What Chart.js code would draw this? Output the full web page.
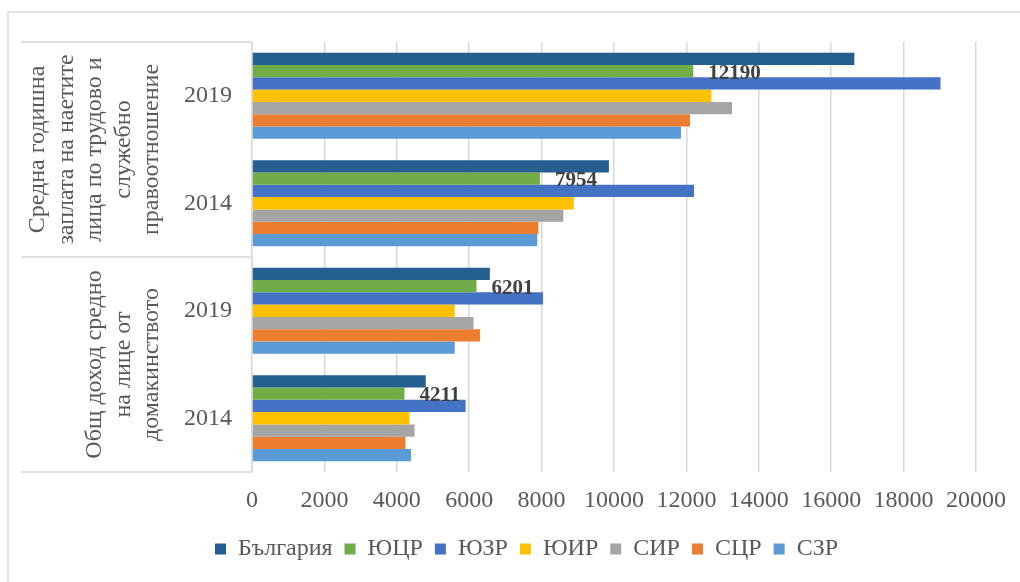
<!DOCTYPE html>
<html>
<head>
<meta charset="utf-8">
<script src="https://cdn.jsdelivr.net/npm/chart.js@4.4.1/dist/chart.umd.min.js"></script>
<style>
  html, body { margin: 0; padding: 0; background: #fff; }
  #wrap { width: 1020px; height: 582px; position: relative; }
</style>
</head>
<body>
<div id="wrap"><canvas id="regionsChart"></canvas></div>
<script>
// ------------------------ DATOS ------------------------
// categorias (de arriba hacia abajo): заплата 2019, заплата 2014, доход 2019, доход 2014
const yearLabels = ['2019', '2014', '2019', '2014'];
const groupLabels = [
  ['Средна годишна', 'заплата на наетите', 'лица по трудово и', 'служебно', 'правоотношение'],
  ['Общ доход средно', 'на лице от', 'домакинството']
];
const seriesNames = ['България', 'ЮЦР', 'ЮЗР', 'ЮИР', 'СИР', 'СЦР', 'СЗР'];
const bulgaria = [16640, 9860, 6570, 4800];
const yuzhenCentralen = [12190, 7954, 6201, 4211];
const yugozapaden = [19020, 12210, 8040, 5900];
const yugoiztochen = [12690, 8890, 5600, 4350];
const severoiztochen = [13260, 8600, 6120, 4490];
const severenCentralen = [12100, 7910, 6300, 4240];
const severozapaden = [11850, 7880, 5600, 4390];
const seriesColors = ['#255e91', '#70ad47', '#4472c4', '#ffc000', '#a5a5a5', '#ed7d31', '#5b9bd5'];
const xTicks = [0, 2000, 4000, 6000, 8000, 10000, 12000, 14000, 16000, 18000, 20000];

const seriesValues = [bulgaria, yuzhenCentralen, yugozapaden, yugoiztochen,
  severoiztochen, severenCentralen, severozapaden];

const gridColor = '#d9d9d9';
const textColor = '#595959';
const serif = "'Liberation Serif', 'Times New Roman', serif";

// marco exterior y caja de categorias
const framePlugin = {
  id: 'framePlugin',
  afterLayout(chart) {
    // la leyenda va centrada en todo el gráfico, no solo en el área
    chart.legend.left += 56;
  },
  beforeDraw(chart) {
    const ctx = chart.ctx;
    const area = chart.chartArea;
    const y = chart.scales.y;
    ctx.save();
    ctx.strokeStyle = gridColor;
    ctx.lineWidth = 1.5;
    ctx.beginPath();
    ctx.moveTo(8, chart.height);
    ctx.lineTo(8, 12);
    ctx.lineTo(chart.width, 12);
    ctx.stroke();
    const mid = (y.getPixelForValue(1) + y.getPixelForValue(2)) / 2;
    ctx.beginPath();
    [area.top, mid, area.bottom].forEach(function(py) {
      ctx.moveTo(21, py);
      ctx.lineTo(area.left, py);
    });
    ctx.stroke();
    ctx.restore();
  },
  afterDraw(chart) {
    const ctx = chart.ctx;
    const area = chart.chartArea;
    const y = chart.scales.y;
    const mid = (y.getPixelForValue(1) + y.getPixelForValue(2)) / 2;
    const centers = [(area.top + mid) / 2, (mid + area.bottom) / 2];
    ctx.save();
    ctx.font = '24px ' + serif;
    ctx.fillStyle = textColor;
    ctx.textAlign = 'center';
    ctx.textBaseline = 'middle';
    groupLabels.forEach(function(lines, g) {
      const lastX = area.left - 100;
      lines.forEach(function(line, i) {
        const px = lastX - 28.5 * (lines.length - 1 - i);
        ctx.save();
        ctx.translate(px, centers[g]);
        ctx.rotate(-Math.PI / 2);
        ctx.fillText(line, 0, 0);
        ctx.restore();
      });
    });
    ctx.restore();
  }
};

// etiquetas de valor solo para ЮЦР
const valueLabels = {
  id: 'valueLabels',
  afterDatasetsDraw(chart) {
    const ctx = chart.ctx;
    const meta = chart.getDatasetMeta(1);
    ctx.save();
    ctx.font = 'bold 21px ' + serif;
    ctx.fillStyle = '#404040';
    ctx.textAlign = 'left';
    ctx.textBaseline = 'middle';
    meta.data.forEach(function(bar, i) {
      ctx.fillText(String(yuzhenCentralen[i]), bar.x + 15, bar.y + 2);
    });
    ctx.restore();
  }
};

const ctx = document.getElementById('regionsChart').getContext('2d');
new Chart(ctx, {
  type: 'bar',
  data: {
    labels: yearLabels,
    datasets: seriesNames.map(function(name, i) {
      return {
        label: name,
        data: seriesValues[i],
        backgroundColor: seriesColors[i],
        borderWidth: 0,
        categoryPercentage: 0.8,
        barPercentage: 1.0
      };
    })
  },
  options: {
    indexAxis: 'y',
    responsive: true,
    maintainAspectRatio: false,
    animation: false,
    layout: { padding: { top: 42, left: 21, right: 44, bottom: 11 } },
    plugins: {
      legend: {
        position: 'bottom',
        labels: {
          boxWidth: 11,
          boxHeight: 11,
          padding: 12,
          color: textColor,
          font: { family: serif, size: 24 }
        }
      },
      tooltip: { enabled: false }
    },
    scales: {
      x: {
        min: 0,
        max: 20000,
        afterBuildTicks: function(scale) {
          scale.ticks = xTicks.map(function(v) { return { value: v }; });
        },
        afterFit: function(scale) { scale.height = 53; },
        grid: { color: gridColor, lineWidth: 1.5, drawTicks: false },
        border: { display: false },
        ticks: {
          padding: 14,
          maxRotation: 0,
          color: textColor,
          font: { family: serif, size: 24 },
          callback: function(value) { return String(value); }
        }
      },
      y: {
        afterFit: function(scale) { scale.width = 231; },
        grid: { display: false, drawTicks: false },
        border: { display: true, color: gridColor, width: 1.5 },
        ticks: {
          padding: 20,
          color: textColor,
          font: { family: serif, size: 24 }
        }
      }
    }
  },
  plugins: [framePlugin, valueLabels]
});
</script>
</body>
</html>
